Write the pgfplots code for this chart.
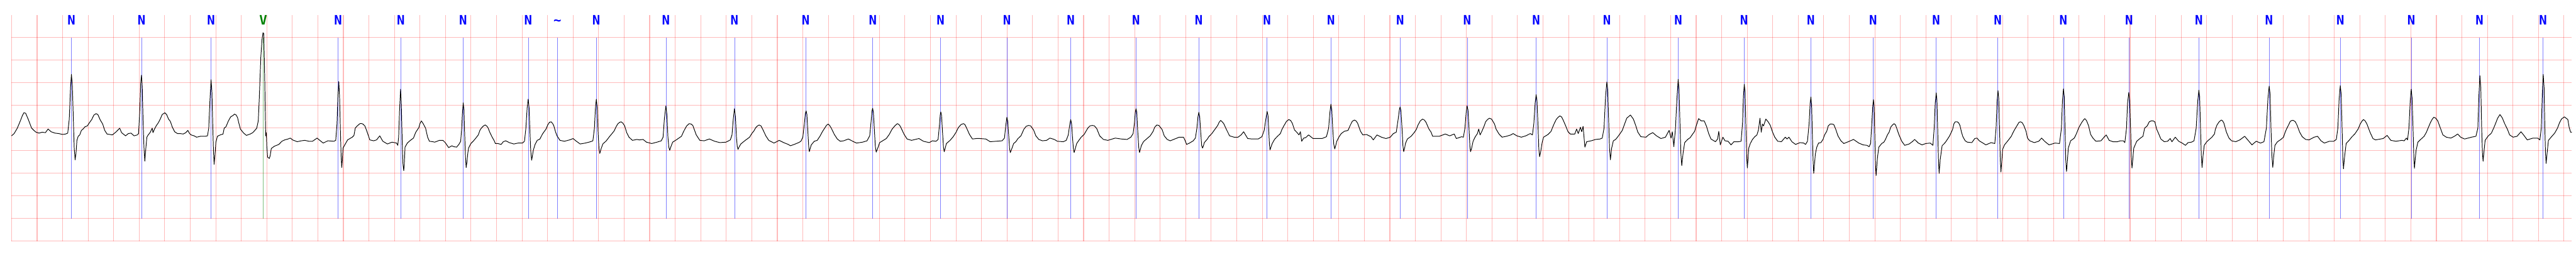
\documentclass[border=0pt]{standalone}
\usepackage{pgfplots}
\pgfplotsset{compat=1.18}
\usepackage{fontspec}
\newfontfamily\lblfont{DejaVu Sans Mono}
\begin{document}
\begin{tikzpicture}
\path[use as bounding box] (0,0) rectangle (3761pt,375pt);
\begin{axis}[
  at={(16.9pt,22.5pt)}, anchor=south west,
  scale only axis, width=3738.1pt, height=330.5pt,
  xmin=0, xmax=20.062, ymin=-2.5, ymax=2.5,
  xtick distance=0.2,
  ytick={-2.5,-2,-1.5,-1,-0.5,0,0.5,1,1.5,2},
  xticklabel=\empty, yticklabel=\empty,
  major tick length=0pt,
  axis line style={draw=none},
  grid=major,
  major grid style={draw=red, opacity=0.27, line width=1pt},
  clip=false,
]
% annotation lines
\addplot[blue, opacity=0.5, line width=0.5pt, unbounded coords=jump] coordinates {
(0.469,-2) (0.469,2) (0.469,nan) (1.018,-2) (1.018,2) (1.018,nan) (1.563,-2) (1.563,2) (1.563,nan)
(2.559,-2) (2.559,2) (2.559,nan) (3.050,-2) (3.050,2) (3.050,nan) (3.538,-2) (3.538,2) (3.538,nan)
(4.048,-2) (4.048,2) (4.048,nan) (4.277,-2) (4.277,2) (4.277,nan) (4.582,-2) (4.582,2) (4.582,nan)
(5.127,-2) (5.127,2) (5.127,nan) (5.664,-2) (5.664,2) (5.664,nan) (6.222,-2) (6.222,2) (6.222,nan)
(6.748,-2) (6.748,2) (6.748,nan) (7.280,-2) (7.280,2) (7.280,nan) (7.800,-2) (7.800,2) (7.800,nan)
(8.299,-2) (8.299,2) (8.299,nan) (8.811,-2) (8.811,2) (8.811,nan) (9.302,-2) (9.302,2) (9.302,nan)
(9.837,-2) (9.837,2) (9.837,nan) (10.338,-2) (10.338,2) (10.338,nan) (10.880,-2) (10.880,2) (10.880,nan)
(11.406,-2) (11.406,2) (11.406,nan) (11.946,-2) (11.946,2) (11.946,nan) (12.501,-2) (12.501,2) (12.501,nan)
(13.060,-2) (13.060,2) (13.060,nan) (13.575,-2) (13.575,2) (13.575,nan) (14.098,-2) (14.098,2) (14.098,nan)
(14.586,-2) (14.586,2) (14.586,nan) (15.080,-2) (15.080,2) (15.080,nan) (15.563,-2) (15.563,2) (15.563,nan)
(16.077,-2) (16.077,2) (16.077,nan) (16.592,-2) (16.592,2) (16.592,nan) (17.139,-2) (17.139,2) (17.139,nan)
(17.689,-2) (17.689,2) (17.689,nan) (18.248,-2) (18.248,2) (18.248,nan) (18.803,-2) (18.803,2) (18.803,nan)
(19.338,-2) (19.338,2) (19.338,nan) (19.836,-2) (19.836,2)
};
\addplot[green!50!black, opacity=0.5, line width=0.5pt] coordinates {(1.972,-2) (1.972,2)};
% ECG signal (mV vs s)
\addplot[black, line width=0.9pt, line join=round, mark=none] coordinates {
(0,-0.17) (0.02,-0.12) (0.045,0.0) (0.07,0.17) (0.085,0.28) (0.097,0.34) (0.11,0.33) (0.13,0.2) (0.157,0.0) (0.175,-0.05) (0.192,-0.09) (0.215,-0.11) (0.24,-0.09) (0.265,-0.1) (0.286,-0.02) (0.31,-0.08) (0.34,-0.11) (0.37,-0.12) (0.4,-0.14) (0.423,-0.13) (0.44,-0.11) (0.452,0.2) (0.462,0.9) (0.469,1.19) (0.476,0.95) (0.484,0.2) (0.491,-0.45) (0.498,-0.70) (0.505,-0.55) (0.512,-0.27) (0.522,-0.18) (0.534,-0.15) (0.547,-0.05) (0.56,-0.02) (0.575,0.03) (0.594,0.05) (0.61,0.12) (0.628,0.19) (0.645,0.29) (0.662,0.32) (0.676,0.3) (0.695,0.18) (0.714,0.09) (0.73,-0.05) (0.748,-0.13) (0.77,-0.14) (0.79,-0.15) (0.82,-0.08) (0.847,0.0) (0.862,-0.1) (0.893,-0.17) (0.915,-0.12) (0.936,-0.11) (0.96,-0.17) (0.985,-0.15) (0.995,-0.12) (1.005,0.4) (1.012,1.0) (1.018,1.17) (1.024,0.9) (1.03,0.2) (1.037,-0.4) (1.044,-0.73) (1.052,-0.45) (1.06,-0.2) (1.07,-0.15) (1.085,-0.1) (1.102,0.0) (1.108,-0.1) (1.12,-0.02) (1.133,0.05) (1.15,0.12) (1.165,0.2) (1.18,0.3) (1.201,0.34) (1.215,0.3) (1.23,0.2) (1.244,0.15) (1.26,0.02) (1.278,-0.08) (1.3,-0.12) (1.32,-0.12) (1.345,-0.13) (1.365,-0.1) (1.381,-0.05) (1.395,-0.12) (1.407,-0.15) (1.43,-0.17) (1.45,-0.2) (1.48,-0.18) (1.518,-0.18) (1.535,-0.17) (1.545,0.0) (1.554,0.6) (1.563,1.07) (1.57,0.8) (1.577,0.0) (1.582,-0.5) (1.587,-0.80)
(1.595,-0.55) (1.601,-0.31) (1.613,-0.18) (1.635,-0.15) (1.657,-0.13) (1.666,0.0) (1.68,0.03) (1.699,0.16) (1.717,0.25) (1.735,0.28) (1.747,0.31) (1.76,0.29) (1.771,0.23) (1.78,0.12) (1.793,-0.02) (1.81,-0.08) (1.819,-0.11) (1.84,-0.16) (1.87,-0.13) (1.89,-0.1) (1.903,-0.06) (1.921,0.0) (1.933,0.16) (1.941,0.66) (1.953,1.57) (1.962,1.95) (1.97,2.11) (1.976,2.09) (1.98,1.6) (1.984,1.03) (1.988,0.3) (1.991,-0.17) (1.996,-0.10) (2.0,-0.4) (2.006,-0.64) (2.02,-0.67) (2.027,-0.6) (2.035,-0.45) (2.059,-0.40) (2.094,-0.36) (2.118,-0.29) (2.14,-0.26) (2.166,-0.24) (2.184,-0.22) (2.202,-0.26) (2.238,-0.30) (2.27,-0.28) (2.298,-0.27) (2.33,-0.29) (2.358,-0.29) (2.394,-0.22) (2.415,-0.27) (2.442,-0.33) (2.478,-0.28) (2.526,-0.29) (2.54,-0.27) (2.55,0.1) (2.557,0.7) (2.564,1.03) (2.57,0.7) (2.577,-0.1) (2.582,-0.6) (2.587,-0.87) (2.592,-0.7) (2.597,-0.44) (2.615,-0.35) (2.633,-0.26) (2.669,-0.20) (2.683,-0.16) (2.693,0.0) (2.705,0.04) (2.717,0.07) (2.73,0.10) (2.745,0.1) (2.753,0.09) (2.768,0.05) (2.783,-0.06) (2.807,-0.26) (2.837,-0.28) (2.86,-0.26) (2.885,-0.17) (2.895,-0.22) (2.909,-0.29) (2.945,-0.35) (2.981,-0.31) (3.017,-0.33) (3.026,-0.38) (3.033,-0.2) (3.04,0.4) (3.048,0.86) (3.054,0.5) (3.061,-0.3) (3.067,-0.8) (3.073,-0.94) (3.078,-0.75) (3.083,-0.42) (3.101,-0.33) (3.125,-0.27) (3.149,-0.22) (3.167,-0.09) (3.191,0.01) (3.2,0.1) (3.211,0.16) (3.225,0.1) (3.244,0.0) (3.26,-0.2) (3.274,-0.29) (3.3,-0.3) (3.316,-0.31) (3.352,-0.27)
(3.38,-0.27) (3.398,-0.32) (3.425,-0.43) (3.45,-0.39) (3.465,-0.41) (3.487,-0.42) (3.505,-0.36) (3.519,-0.29) (3.527,0.0) (3.533,0.35) (3.539,0.56) (3.545,0.4) (3.55,-0.1) (3.556,-0.6) (3.562,-0.87) (3.568,-0.75) (3.575,-0.55) (3.581,-0.44) (3.599,-0.34) (3.617,-0.29) (3.635,-0.23) (3.657,-0.15) (3.671,-0.04) (3.684,0.01) (3.698,0.05) (3.711,0.07) (3.722,0.05) (3.733,0.01) (3.747,-0.09) (3.764,-0.19) (3.782,-0.28) (3.791,-0.34) (3.81,-0.34) (3.836,-0.36) (3.853,-0.3) (3.872,-0.28) (3.9,-0.32) (3.935,-0.35)
(3.97,-0.33) (4.003,-0.33) (4.019,-0.29) (4.03,0.0) (4.04,0.45) (4.048,0.64) (4.055,0.45) (4.062,-0.1) (4.068,-0.5) (4.075,-0.71) (4.081,-0.62) (4.088,-0.49) (4.102,-0.36) (4.119,-0.27) (4.14,-0.24) (4.16,-0.13) (4.175,-0.07) (4.188,-0.02) (4.201,0.07) (4.215,0.13) (4.228,0.14) (4.24,0.1) (4.249,0.05) (4.262,-0.08) (4.274,-0.17) (4.297,-0.27) (4.332,-0.29) (4.373,-0.26) (4.4,-0.23) (4.421,-0.28) (4.455,-0.35) (4.496,-0.33) (4.537,-0.30) (4.555,-0.28) (4.567,0.0) (4.575,0.45) (4.582,0.64) (4.589,0.45) (4.596,-0.1) (4.603,-0.45) (4.609,-0.56) (4.62,-0.45) (4.633,-0.35) (4.66,-0.28) (4.687,-0.18) (4.705,-0.12) (4.722,-0.06) (4.735,0.02) (4.749,0.09) (4.765,0.13) (4.776,0.14) (4.79,0.11) (4.804,0.05) (4.82,-0.1) (4.838,-0.20) (4.865,-0.27) (4.9,-0.25) (4.92,-0.26) (4.948,-0.25) (4.975,-0.31) (5.016,-0.34) (5.057,-0.31) (5.091,-0.28) (5.105,-0.2) (5.115,0.2) (5.127,0.49) (5.135,0.3) (5.143,-0.2) (5.15,-0.42) (5.157,-0.49) (5.165,-0.42) (5.18,-0.31) (5.208,-0.26) (5.249,-0.18) (5.265,-0.08) (5.276,-0.02) (5.29,0.05) (5.31,0.10) (5.325,0.09) (5.338,0.06) (5.352,-0.05) (5.365,-0.15) (5.393,-0.27) (5.427,-0.28) (5.468,-0.24) (5.509,-0.29) (5.55,-0.32) (5.598,-0.31) (5.632,-0.26) (5.645,-0.15) (5.655,0.2) (5.664,0.43) (5.672,0.25) (5.68,-0.2) (5.686,-0.4) (5.692,-0.47) (5.7,-0.42) (5.714,-0.35) (5.749,-0.27) (5.783,-0.20) (5.8,-0.12) (5.817,-0.06) (5.831,0.01) (5.845,0.05) (5.858,0.07) (5.872,0.05) (5.885,-0.02) (5.91,-0.17) (5.933,-0.27) (5.974,-0.33) (6.015,-0.27)
(6.05,-0.32) (6.086,-0.36) (6.103,-0.39) (6.132,-0.36) (6.167,-0.32) (6.185,-0.29) (6.2,-0.2) (6.212,0.1) (6.22,0.33) (6.226,0.38) (6.232,0.3) (6.24,-0.1) (6.246,-0.4) (6.251,-0.52) (6.258,-0.45) (6.266,-0.37) (6.29,-0.29) (6.313,-0.27) (6.336,-0.17) (6.353,-0.08) (6.371,0.0) (6.385,0.06) (6.398,0.09) (6.41,0.06) (6.423,0.0) (6.447,-0.14) (6.47,-0.24) (6.493,-0.29) (6.52,-0.28) (6.557,-0.24) (6.598,-0.30) (6.621,-0.33) (6.668,-0.31) (6.703,-0.28) (6.724,-0.17) (6.735,0.15) (6.742,0.38) (6.747,0.44) (6.753,0.35) (6.76,0.0) (6.768,-0.4) (6.775,-0.53) (6.782,-0.48) (6.79,-0.42) (6.802,-0.32) (6.831,-0.27) (6.854,-0.23) (6.877,-0.14) (6.9,-0.02) (6.924,0.06) (6.941,0.10) (6.953,0.08) (6.964,0.04) (6.994,-0.14) (7.017,-0.24) (7.052,-0.27) (7.08,-0.25) (7.11,-0.23) (7.145,-0.29) (7.191,-0.32) (7.215,-0.28) (7.244,-0.29) (7.26,-0.25) (7.27,0.05) (7.277,0.3) (7.281,0.36) (7.287,0.28) (7.295,-0.1) (7.302,-0.42) (7.308,-0.52) (7.315,-0.45) (7.325,-0.34) (7.354,-0.27) (7.378,-0.19) (7.401,-0.09) (7.418,0.01) (7.44,0.08) (7.459,0.10) (7.47,0.08) (7.482,0.01) (7.506,-0.14) (7.529,-0.24) (7.56,-0.23) (7.587,-0.23) (7.634,-0.24) (7.668,-0.30) (7.715,-0.29) (7.761,-0.28) (7.78,-0.22) (7.79,0.05) (7.799,0.24) (7.806,0.15) (7.813,-0.15) (7.82,-0.45) (7.826,-0.54) (7.838,-0.45) (7.852,-0.34)
(7.869,-0.3) (7.886,-0.23) (7.909,-0.17) (7.933,-0.02) (7.95,0.04) (7.969,0.06) (7.985,0.05) (8.008,-0.04) (8.026,-0.17) (8.049,-0.25) (8.078,-0.28) (8.11,-0.27) (8.136,-0.22) (8.171,-0.25) (8.194,-0.29) (8.241,-0.30) (8.264,-0.27) (8.28,-0.15) (8.29,0.05) (8.299,0.19) (8.306,0.1) (8.313,-0.2) (8.32,-0.45) (8.326,-0.54) (8.335,-0.45) (8.346,-0.34) (8.363,-0.27) (8.381,-0.20) (8.404,-0.14) (8.433,0.0) (8.45,0.05) (8.468,0.06) (8.485,0.05) (8.503,-0.01) (8.526,-0.17) (8.555,-0.25) (8.59,-0.27) (8.648,-0.22) (8.695,-0.24) (8.741,-0.25) (8.77,-0.20) (8.788,-0.12) (8.798,0.1) (8.805,0.35) (8.811,0.43) (8.817,0.35) (8.824,-0.05) (8.832,-0.42) (8.838,-0.54) (8.845,-0.47) (8.852,-0.39) (8.869,-0.30) (8.893,-0.24) (8.922,-0.17) (8.945,-0.07) (8.957,0.02) (8.974,0.07) (8.99,0.06) (9.015,-0.03) (9.032,-0.17) (9.055,-0.25) (9.079,-0.28) (9.114,-0.24) (9.149,-0.20) (9.183,-0.20) (9.195,-0.27) (9.207,-0.36) (9.23,-0.33) (9.259,-0.28) (9.276,-0.22) (9.288,0.0) (9.296,0.25) (9.303,0.35) (9.31,0.25) (9.318,-0.1) (9.325,-0.38) (9.332,-0.44) (9.338,-0.4) (9.346,-0.32) (9.37,-0.24) (9.381,-0.19) (9.405,-0.12) (9.428,-0.03) (9.451,0.06) (9.462,0.13) (9.474,0.17) (9.486,0.14) (9.498,0.1) (9.521,-0.04) (9.544,-0.17) (9.579,-0.20)
(9.61,-0.2) (9.634,-0.15) (9.654,-0.08) (9.669,-0.15) (9.686,-0.23) (9.72,-0.24) (9.768,-0.24) (9.797,-0.19) (9.815,-0.05) (9.828,0.2) (9.838,0.37) (9.845,0.28) (9.85,0.0) (9.856,-0.35) (9.861,-0.48) (9.868,-0.42) (9.878,-0.34) (9.896,-0.25) (9.919,-0.18) (9.942,-0.12) (9.954,-0.03) (9.971,0.06) (9.99,0.15) (10.008,0.19) (10.022,0.17) (10.035,0.11) (10.053,-0.04) (10.07,-0.09) (10.088,-0.15) (10.099,-0.08) (10.109,-0.29) (10.125,-0.22) (10.14,-0.21) (10.163,-0.15) (10.198,-0.23) (10.24,-0.23) (10.268,-0.23) (10.303,-0.19) (10.32,0.0) (10.33,0.35) (10.338,0.53) (10.345,0.4) (10.352,0.0) (10.36,-0.35) (10.368,-0.46) (10.376,-0.38) (10.384,-0.29) (10.402,-0.19) (10.419,-0.12) (10.443,-0.07) (10.472,-0.05) (10.489,0.06) (10.505,0.15) (10.522,0.18) (10.535,0.16) (10.547,0.11) (10.57,-0.07) (10.588,-0.15) (10.617,-0.14) (10.652,-0.19) (10.67,-0.26) (10.699,-0.15) (10.734,-0.20) (10.769,-0.23) (10.803,-0.20) (10.827,-0.12) (10.85,-0.09) (10.865,0.2) (10.874,0.4) (10.88,0.47) (10.887,0.38) (10.895,0.0) (10.902,-0.38) (10.908,-0.52) (10.915,-0.45) (10.922,-0.34) (10.937,-0.24) (10.966,-0.18) (10.99,-0.10) (11.007,-0.03) (11.019,0.06) (11.038,0.16) (11.056,0.20) (11.07,0.18) (11.083,0.13) (11.106,-0.02) (11.123,-0.09) (11.135,-0.18) (11.187,-0.18) (11.234,-0.13) (11.269,-0.17) (11.304,-0.13) (11.321,-0.23) (11.362,-0.19)
(11.376,-0.2) (11.388,0.0) (11.398,0.35) (11.405,0.49) (11.412,0.4) (11.42,0.0) (11.427,-0.4) (11.432,-0.52) (11.44,-0.45) (11.452,-0.29) (11.469,-0.19) (11.486,-0.12) (11.496,-0.02) (11.507,-0.15) (11.521,-0.07) (11.539,0.05) (11.55,0.14) (11.565,0.19) (11.58,0.22) (11.597,0.2) (11.62,0.09) (11.632,-0.02) (11.655,-0.13) (11.679,-0.20) (11.713,-0.18) (11.748,-0.15) (11.766,-0.12) (11.795,-0.17) (11.83,-0.20) (11.865,-0.17) (11.9,-0.12) (11.917,-0.15) (11.928,0.1) (11.938,0.55) (11.946,0.74) (11.953,0.6) (11.96,0.1) (11.967,-0.45) (11.973,-0.63) (11.98,-0.55) (11.993,-0.32) (12.004,-0.20) (12.039,-0.14) (12.063,-0.07) (12.074,0.01) (12.086,0.09) (12.103,0.19) (12.118,0.24) (12.132,0.27) (12.145,0.25) (12.156,0.19) (12.179,0.04) (12.196,-0.08) (12.214,-0.13) (12.249,-0.13) (12.263,-0.02) (12.276,-0.12) (12.293,0.02) (12.303,-0.08) (12.314,0.04) (12.328,-0.42) (12.342,-0.30) (12.377,-0.28) (12.412,-0.25) (12.447,-0.24) (12.464,-0.22) (12.478,0.0) (12.49,0.7) (12.5,1.02) (12.507,0.85) (12.514,0.2) (12.521,-0.45) (12.528,-0.70) (12.537,-0.45) (12.551,-0.28) (12.569,-0.25) (12.586,-0.19) (12.604,-0.12) (12.621,-0.05) (12.639,0.09) (12.656,0.22) (12.685,0.29) (12.708,0.20) (12.726,0.06) (12.743,-0.09) (12.767,-0.19) (12.807,-0.20) (12.831,-0.14) (12.86,-0.10) (12.889,-0.17) (12.924,-0.23) (12.959,-0.20) (12.988,-0.05) (13.003,-0.22) (13.013,-0.08) (13.025,-0.41) (13.038,0.0) (13.048,0.6) (13.059,1.08) (13.066,0.85) (13.073,0.1) (13.08,-0.55) (13.087,-0.83) (13.098,-0.54) (13.11,-0.32) (13.133,-0.25) (13.153,-0.21)
(13.17,-0.14) (13.188,-0.07) (13.199,0.04) (13.219,0.21) (13.24,0.16) (13.263,0.16) (13.281,0.04) (13.298,-0.12) (13.316,-0.24) (13.351,-0.30) (13.368,-0.24) (13.377,-0.07) (13.389,-0.37) (13.409,-0.20) (13.426,-0.28) (13.45,-0.29) (13.473,-0.37) (13.496,-0.30) (13.531,-0.30) (13.552,-0.29) (13.563,0.1) (13.57,0.7) (13.577,0.97) (13.583,0.8) (13.59,0.0) (13.596,-0.65) (13.601,-0.88) (13.606,-0.7) (13.612,-0.44) (13.624,-0.34) (13.641,-0.25) (13.659,-0.19) (13.676,-0.15) (13.688,-0.04) (13.7,0.22) (13.71,-0.09) (13.719,0.09) (13.728,0.05) (13.746,0.20) (13.764,0.14) (13.781,0.06) (13.799,-0.09) (13.816,-0.20) (13.839,-0.29) (13.868,-0.30) (13.898,-0.20) (13.912,-0.24) (13.927,-0.20) (13.95,-0.30) (13.979,-0.36) (14.014,-0.32) (14.043,-0.33) (14.057,-0.36) (14.072,-0.29) (14.085,0.1) (14.093,0.55) (14.099,0.69) (14.105,0.5) (14.11,-0.1) (14.116,-0.7) (14.121,-1.00) (14.127,-0.8) (14.134,-0.57) (14.145,-0.42) (14.159,-0.33) (14.177,-0.32) (14.194,-0.25) (14.206,-0.15) (14.223,-0.07) (14.235,0.05) (14.25,0.09) (14.265,0.09) (14.278,0.08) (14.293,-0.02) (14.311,-0.17) (14.334,-0.28) (14.357,-0.34) (14.392,-0.30) (14.433,-0.25) (14.474,-0.33) (14.508,-0.37) (14.538,-0.38) (14.555,-0.41) (14.567,-0.34) (14.578,0.2) (14.584,0.5) (14.589,0.63) (14.595,0.45) (14.6,-0.2) (14.605,-0.8) (14.61,-1.05) (14.615,-0.85) (14.621,-0.64) (14.631,-0.42) (14.654,-0.34) (14.671,-0.31) (14.683,-0.25) (14.7,-0.14) (14.712,-0.09) (14.724,0.02) (14.738,0.07) (14.751,0.10) (14.762,0.07) (14.77,0.01) (14.788,-0.14) (14.811,-0.29) (14.834,-0.38) (14.869,-0.35) (14.893,-0.30) (14.912,-0.25)
(14.941,-0.33) (14.97,-0.37) (14.999,-0.34) (15.034,-0.33) (15.055,-0.38) (15.065,0.0) (15.073,0.55) (15.081,0.78) (15.087,0.6) (15.093,-0.1) (15.099,-0.75) (15.104,-1.00) (15.112,-0.7) (15.127,-0.39) (15.151,-0.32) (15.168,-0.25) (15.186,-0.17) (15.209,-0.03) (15.22,0.1) (15.23,0.14) (15.245,0.14) (15.256,0.12) (15.267,0.06) (15.279,-0.09) (15.29,-0.19) (15.308,-0.28) (15.325,-0.31) (15.36,-0.32) (15.383,-0.23) (15.401,-0.22) (15.418,-0.28) (15.453,-0.34) (15.47,-0.37) (15.511,-0.32) (15.54,-0.34) (15.55,0.0) (15.558,0.6) (15.565,0.83) (15.571,0.65) (15.577,0.0) (15.583,-0.7) (15.588,-0.97) (15.594,-0.75) (15.601,-0.47) (15.616,-0.37) (15.645,-0.27) (15.669,-0.18) (15.686,-0.08) (15.698,-0.02) (15.715,0.06) (15.73,0.13) (15.741,0.14) (15.755,0.12) (15.767,0.06) (15.785,-0.07) (15.796,-0.22) (15.814,-0.28) (15.849,-0.32) (15.884,-0.29) (15.907,-0.22) (15.93,-0.29) (15.965,-0.37) (16.012,-0.33) (16.047,-0.34) (16.062,0.0) (16.07,0.6) (16.078,0.87) (16.084,0.7) (16.09,0.0) (16.096,-0.7) (16.102,-0.96) (16.108,-0.75) (16.116,-0.44) (16.134,-0.28) (16.163,-0.22) (16.18,-0.12) (16.198,0.01) (16.22,0.12) (16.235,0.18) (16.245,0.21) (16.258,0.17) (16.274,0.06) (16.291,-0.14) (16.309,-0.22) (16.332,-0.29) (16.372,-0.28) (16.396,-0.20) (16.413,-0.15) (16.436,-0.27) (16.466,-0.30) (16.501,-0.30) (16.524,-0.28) (16.547,-0.28) (16.559,-0.32) (16.572,0.0) (16.58,0.55) (16.59,0.79) (16.597,0.6) (16.604,0.0) (16.61,-0.65) (16.615,-0.88) (16.621,-0.7) (16.629,-0.44) (16.652,-0.29)
(16.681,-0.22) (16.701,-0.18) (16.714,0.0) (16.734,0.05) (16.75,0.14) (16.765,0.16) (16.78,0.16) (16.794,0.14) (16.808,-0.02) (16.828,-0.15) (16.841,-0.24) (16.868,-0.30) (16.894,-0.29) (16.914,-0.23) (16.928,-0.30) (16.954,-0.20) (16.981,-0.29) (17.008,-0.33) (17.034,-0.38) (17.054,-0.32) (17.081,-0.31) (17.101,-0.28) (17.118,0.0) (17.13,0.6) (17.139,0.84) (17.145,0.7) (17.152,0.0) (17.158,-0.6) (17.164,-0.87) (17.172,-0.6) (17.181,-0.38) (17.201,-0.30) (17.221,-0.25) (17.241,-0.20) (17.261,-0.13) (17.268,-0.03) (17.281,0.07) (17.298,0.14) (17.315,0.18) (17.325,0.16) (17.335,0.11) (17.355,-0.09) (17.375,-0.22) (17.395,-0.28) (17.428,-0.30) (17.46,-0.26) (17.498,-0.18) (17.528,-0.28) (17.555,-0.37) (17.588,-0.29) (17.622,-0.33) (17.649,-0.30) (17.668,0.0) (17.68,0.65) (17.69,0.93) (17.697,0.75) (17.704,0.0) (17.711,-0.6) (17.718,-0.87) (17.726,-0.6) (17.735,-0.38) (17.755,-0.30) (17.782,-0.25) (17.802,-0.20) (17.815,-0.09) (17.829,0.0) (17.842,0.07) (17.855,0.15) (17.868,0.17) (17.88,0.17) (17.895,0.14) (17.909,0.06) (17.929,-0.09) (17.949,-0.19) (17.976,-0.25) (18.002,-0.26) (18.042,-0.20) (18.069,-0.18) (18.096,-0.28) (18.122,-0.33) (18.162,-0.29) (18.196,-0.29) (18.216,-0.25) (18.228,0.0) (18.238,0.65) (18.247,0.94) (18.254,0.75) (18.261,0.0) (18.267,-0.65) (18.272,-0.90) (18.282,-0.6) (18.293,-0.34) (18.316,-0.27) (18.336,-0.20) (18.363,-0.12) (18.387,-0.02) (18.403,0.09) (18.418,0.16) (18.429,0.19) (18.442,0.16) (18.456,0.09) (18.48,-0.09) (18.503,-0.23) (18.523,-0.26) (18.563,-0.24) (18.583,-0.23) (18.614,-0.16) (18.643,-0.27) (18.683,-0.29)
(18.73,-0.27) (18.748,-0.28) (18.765,-0.22) (18.774,-0.26) (18.785,0.0) (18.795,0.6) (18.803,0.86) (18.81,0.65) (18.817,0.0) (18.823,-0.6) (18.828,-0.89) (18.834,-0.7) (18.841,-0.49) (18.855,-0.31) (18.873,-0.26) (18.904,-0.18) (18.922,-0.09) (18.935,0.0) (18.953,0.12) (18.968,0.2) (18.98,0.24) (18.995,0.22) (19.011,0.16) (19.025,0.05) (19.051,-0.15) (19.078,-0.20) (19.114,-0.22) (19.141,-0.18) (19.167,-0.13) (19.19,-0.20) (19.221,-0.24) (19.275,-0.20) (19.31,-0.18) (19.325,0.0) (19.333,0.7) (19.341,1.16) (19.348,0.9) (19.355,0.0) (19.361,-0.55) (19.366,-0.73) (19.372,-0.55) (19.382,-0.27) (19.404,-0.18) (19.431,-0.11) (19.449,0.0) (19.462,0.09) (19.48,0.22) (19.498,0.30) (19.516,0.23) (19.535,0.1) (19.556,-0.02) (19.574,-0.15) (19.601,-0.20) (19.632,-0.18) (19.663,-0.08) (19.686,-0.16) (19.712,-0.26) (19.757,-0.22) (19.793,-0.22) (19.811,-0.26) (19.822,0.0) (19.83,0.75) (19.837,1.19) (19.844,0.9) (19.85,0.0) (19.855,-0.55) (19.86,-0.78) (19.866,-0.6) (19.878,-0.27) (19.905,-0.18) (19.927,-0.11) (19.949,0.0) (19.965,0.12) (19.98,0.20) (20.003,0.25) (20.03,0.19) (20.041,0.01) (20.052,-0.09) (20.061,-0.09)
};
% beat labels
\pgfplotsinvokeforeach{0.469,1.018,1.563,2.559,3.050,3.538,4.048,4.582,5.127,5.664,6.222,6.748,7.280,7.800,8.299,8.811,9.302,9.837,10.338,10.880,11.406,11.946,12.501,13.060,13.575,14.098,14.586,15.080,15.563,16.077,16.592,17.139,17.689,18.248,18.803,19.338,19.836}{
  \node[anchor=base, inner sep=0pt, text=blue, font=\lblfont\bfseries\fontsize{19}{19}\selectfont] at (axis cs:#1,2.29) {N};
}
\node[anchor=base, inner sep=0pt, text=green!50!black, font=\lblfont\bfseries\fontsize{19}{19}\selectfont] at (axis cs:1.972,2.29) {V};
\node[anchor=base, inner sep=0pt, text=blue, font=\lblfont\bfseries\fontsize{19}{19}\selectfont] at (axis cs:4.277,2.29) {\textasciitilde};
\end{axis}
\end{tikzpicture}
\end{document}
